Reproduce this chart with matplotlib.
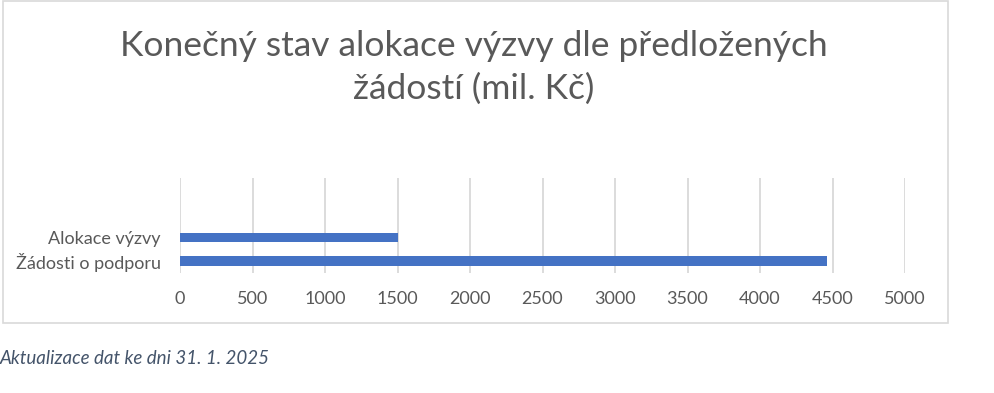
import matplotlib
matplotlib.use("Agg")
import matplotlib.pyplot as plt
from matplotlib.patches import Rectangle

# data (mil. Kč)
categories = ["Žádosti o podporu", "Alokace výzvy"]
values = [4465, 1500]
x_ticks = [0, 500, 1000, 1500, 2000, 2500, 3000, 3500, 4000, 4500, 5000]

title = "Konečný stav alokace výzvy dle předložených\nžádostí (mil. Kč)"
footer = "Aktualizace dat ke dni 31. 1. 2025"

plt.rcParams['font.family'] = ['Lato', 'DejaVu Sans']

fig = plt.figure(figsize=(9.94, 3.93), dpi=100)

# outer chart frame
fig.patches.append(Rectangle((3 / 994, 1 - 323 / 393), 945 / 994, 322 / 393,
                             transform=fig.transFigure, fill=False,
                             edgecolor="#d9d9d9", linewidth=1.2))

ax = fig.add_axes([180 / 994, 1 - 273 / 393, 725 / 994, 95 / 393])
ax.barh(range(len(categories)), values, height=0.4, color="#4472c4", zorder=3)

ax.set_xlim(0, 5000)
ax.set_ylim(-0.51, 3.53)
ax.set_xticks(x_ticks)
ax.set_xticklabels([str(t) for t in x_ticks])
ax.set_yticks(range(len(categories)))
ax.set_yticklabels(categories)
ax.tick_params(length=0, labelsize=13, labelcolor="#595959")
ax.tick_params(axis="x", pad=13)
ax.tick_params(axis="y", pad=14)
ax.grid(axis="x", color="#d9d9d9", linewidth=1.3, zorder=0)
for s in ax.spines.values():
    s.set_visible(False)

fig.text(474 / 994, 1 - 67 / 393, title, ha="center", va="center",
         fontsize=25.5, color="#595959", linespacing=1.4)
fig.text(0, 1 - 358 / 393, footer, ha="left", va="center",
         fontsize=13.5, style="italic", color="#44546a")

fig.savefig("out.png", dpi=100)
